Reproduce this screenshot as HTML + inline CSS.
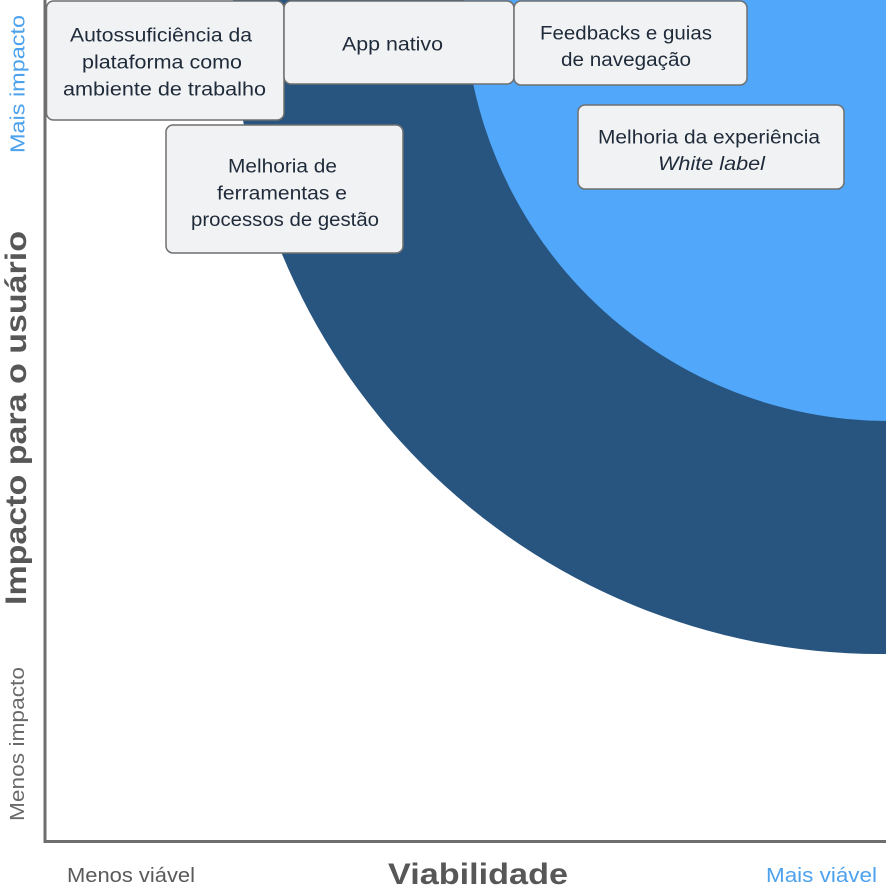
<!DOCTYPE html>
<html>
<head>
<meta charset="utf-8">
<style>
  html, body { margin: 0; padding: 0; background: #ffffff; }
  svg { display: block; }
  .bx { fill: #f1f2f4; stroke: #6f6f6f; stroke-width: 1.5; }
  .t { font-family: "Liberation Sans", "DejaVu Sans", sans-serif; font-size: 19px; fill: #1f2b3a; }
  .ax { font-family: "Liberation Sans", "DejaVu Sans", sans-serif; }
</style>
</head>
<body>
<svg width="886" height="886" viewBox="0 0 886 886" xmlns="http://www.w3.org/2000/svg">
  <rect x="0" y="0" width="886" height="886" fill="#ffffff"/>
  <defs>
    <clipPath id="plot">
      <rect x="46" y="0" width="840" height="840"/>
    </clipPath>
  </defs>

  <!-- regions -->
  <g clip-path="url(#plot)">
    <circle cx="880" cy="7" r="647" fill="#28557f"/>
    <circle cx="889" cy="-4" r="425" fill="#51a8fb"/>
  </g>

  <!-- axes -->
  <line x1="45" y1="0" x2="45" y2="843" stroke="#6e6e6e" stroke-width="3"/>
  <line x1="44" y1="841.5" x2="886" y2="841.5" stroke="#6e6e6e" stroke-width="3"/>

  <!-- boxes -->
  <rect class="bx" x="46.5" y="1" width="237.5" height="119" rx="7"/>
  <rect class="bx" x="284" y="1" width="230" height="83" rx="7"/>
  <rect class="bx" x="514" y="1" width="233" height="84" rx="7"/>
  <rect class="bx" x="578" y="105" width="266" height="84" rx="7"/>
  <rect class="bx" x="166" y="125" width="237" height="128" rx="7"/>

  <!-- box texts -->
  <text class="t" x="70" y="41.5" textLength="182" lengthAdjust="spacingAndGlyphs">Autossuficiência da</text>
  <text class="t" x="82" y="68.5" textLength="160" lengthAdjust="spacingAndGlyphs">plataforma como</text>
  <text class="t" x="63" y="95.5" textLength="203" lengthAdjust="spacingAndGlyphs">ambiente de trabalho</text>

  <text class="t" x="342" y="50.5" textLength="101" lengthAdjust="spacingAndGlyphs">App nativo</text>

  <text class="t" x="540" y="39.5" textLength="172" lengthAdjust="spacingAndGlyphs">Feedbacks e guias</text>
  <text class="t" x="561" y="66" textLength="130" lengthAdjust="spacingAndGlyphs">de navegação</text>

  <text class="t" x="598" y="143.3" textLength="222" lengthAdjust="spacingAndGlyphs">Melhoria da experiência</text>
  <text class="t" x="658" y="170" textLength="107" lengthAdjust="spacingAndGlyphs" font-style="italic">White label</text>

  <text class="t" x="228" y="172.7" textLength="109" lengthAdjust="spacingAndGlyphs">Melhoria de</text>
  <text class="t" x="217" y="199.5" textLength="130" lengthAdjust="spacingAndGlyphs">ferramentas e</text>
  <text class="t" x="191" y="226" textLength="188" lengthAdjust="spacingAndGlyphs">processos de gestão</text>

  <!-- axis labels: horizontal -->
  <text class="ax" x="67" y="882" font-size="20" fill="#5a5a5a" textLength="128" lengthAdjust="spacingAndGlyphs">Menos viável</text>
  <text class="ax" x="388" y="884" font-size="30" font-weight="bold" fill="#575757" textLength="180" lengthAdjust="spacingAndGlyphs">Viabilidade</text>
  <text class="ax" x="766" y="882" font-size="20" fill="#4da2ee" textLength="111" lengthAdjust="spacingAndGlyphs">Mais viável</text>

  <!-- axis labels: vertical -->
  <text class="ax" transform="translate(24.5,153) rotate(-90)" x="0" y="0" font-size="20" fill="#4da2ee" textLength="138" lengthAdjust="spacingAndGlyphs">Mais impacto</text>
  <text class="ax" transform="translate(26,605) rotate(-90)" x="0" y="0" font-size="30" font-weight="bold" fill="#575757" textLength="374" lengthAdjust="spacingAndGlyphs">Impacto para o usuário</text>
  <text class="ax" transform="translate(24,821) rotate(-90)" x="0" y="0" font-size="20" fill="#6a6a6a" textLength="154" lengthAdjust="spacingAndGlyphs">Menos impacto</text>
</svg>
</body>
</html>
